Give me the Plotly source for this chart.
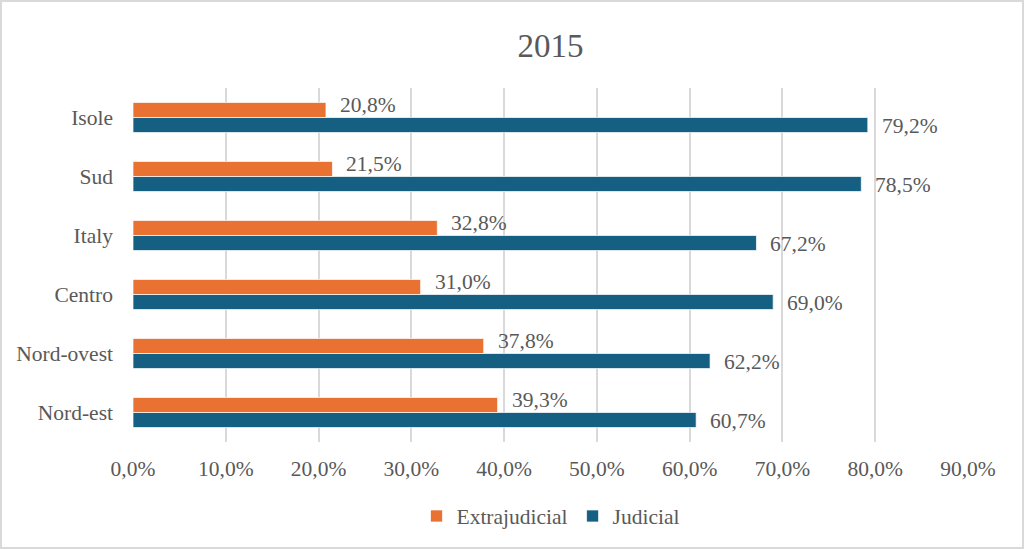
import plotly.graph_objects as go

regions = ["Nord-est", "Nord-ovest", "Centro", "Italy", "Sud", "Isole"]
extrajudicial = [39.3, 37.8, 31.0, 32.8, 21.5, 20.8]
judicial = [60.7, 62.2, 69.0, 67.2, 78.5, 79.2]
x_ticks = [0, 10, 20, 30, 40, 50, 60, 70, 80, 90]


def fmt(v):
    return f"{v:.1f}%".replace(".", ",")


W, H = 1024, 549
L, R, T, B = 133, 56, 88, 107
FONT = "Liberation Serif, Times New Roman, serif"
GREY = "#595959"
FS = 21.5
BARGAP = 0.49

fig = go.Figure()
fig.add_trace(go.Bar(
    y=regions, x=judicial, name="Judicial", orientation="h",
    marker=dict(color="#156082", line=dict(color="white", width=0.7)),
))
fig.add_trace(go.Bar(
    y=regions, x=extrajudicial, name="Extrajudicial", orientation="h",
    marker=dict(color="#E97132", line=dict(color="white", width=0.7)),
))

# data labels, placed at the end of each bar (grouped offsets in category units)
half = (1 - BARGAP) / 4
for i, (e, j) in enumerate(zip(extrajudicial, judicial)):
    fig.add_annotation(x=e, y=i + half, xref="x", yref="y", text=fmt(e),
                       showarrow=False, xanchor="left", yanchor="middle",
                       xshift=12, yshift=5,
                       font=dict(family=FONT, size=FS, color=GREY))
    fig.add_annotation(x=j, y=i - half, xref="x", yref="y", text=fmt(j),
                       showarrow=False, xanchor="left", yanchor="middle",
                       xshift=12, yshift=-1,
                       font=dict(family=FONT, size=FS, color=GREY))

pw = W - L - R
ph = H - T - B
fig.add_shape(type="rect", xref="paper", yref="paper",
              x0=-(L - 1) / pw, x1=1 + (R - 1) / pw,
              y0=-(B - 1) / ph, y1=1 + (T - 1) / ph,
              line=dict(color="#D9D9D9", width=2), layer="below")

fig.update_layout(
    width=W, height=H,
    margin=dict(l=L, r=R, t=T, b=B),
    paper_bgcolor="white", plot_bgcolor="white",
    barmode="group", bargap=BARGAP, bargroupgap=0,
    font=dict(family=FONT, size=FS, color=GREY),
    title=dict(text="2015", x=0.5, xanchor="center", xref="paper",
               y=1 - 45 / H, yref="container", yanchor="middle",
               font=dict(family=FONT, size=33, color=GREY)),
    xaxis=dict(range=[0, 90], tickvals=x_ticks,
               ticktext=[fmt(v) for v in x_ticks],
               showgrid=True, gridcolor="#D9D9D9", gridwidth=1.5,
               zeroline=False, showline=False, ticks="",
               ticklabelstandoff=11,
               tickfont=dict(family=FONT, size=FS, color=GREY)),
    yaxis=dict(showgrid=False, zeroline=False, showline=False, ticks="",
               ticklabelstandoff=19,
               tickfont=dict(family=FONT, size=FS, color=GREY)),
    showlegend=True,
    legend=dict(orientation="h", x=0.5, xanchor="center", xref="paper",
                y=-74 / ph, yanchor="middle", traceorder="reversed",
                font=dict(family=FONT, size=FS, color=GREY),
                itemwidth=30),
)

fig.write_html("out.html", config={"displayModeBar": False},
               post_script="document.body.style.margin='0';document.body.style.overflow='hidden';")
